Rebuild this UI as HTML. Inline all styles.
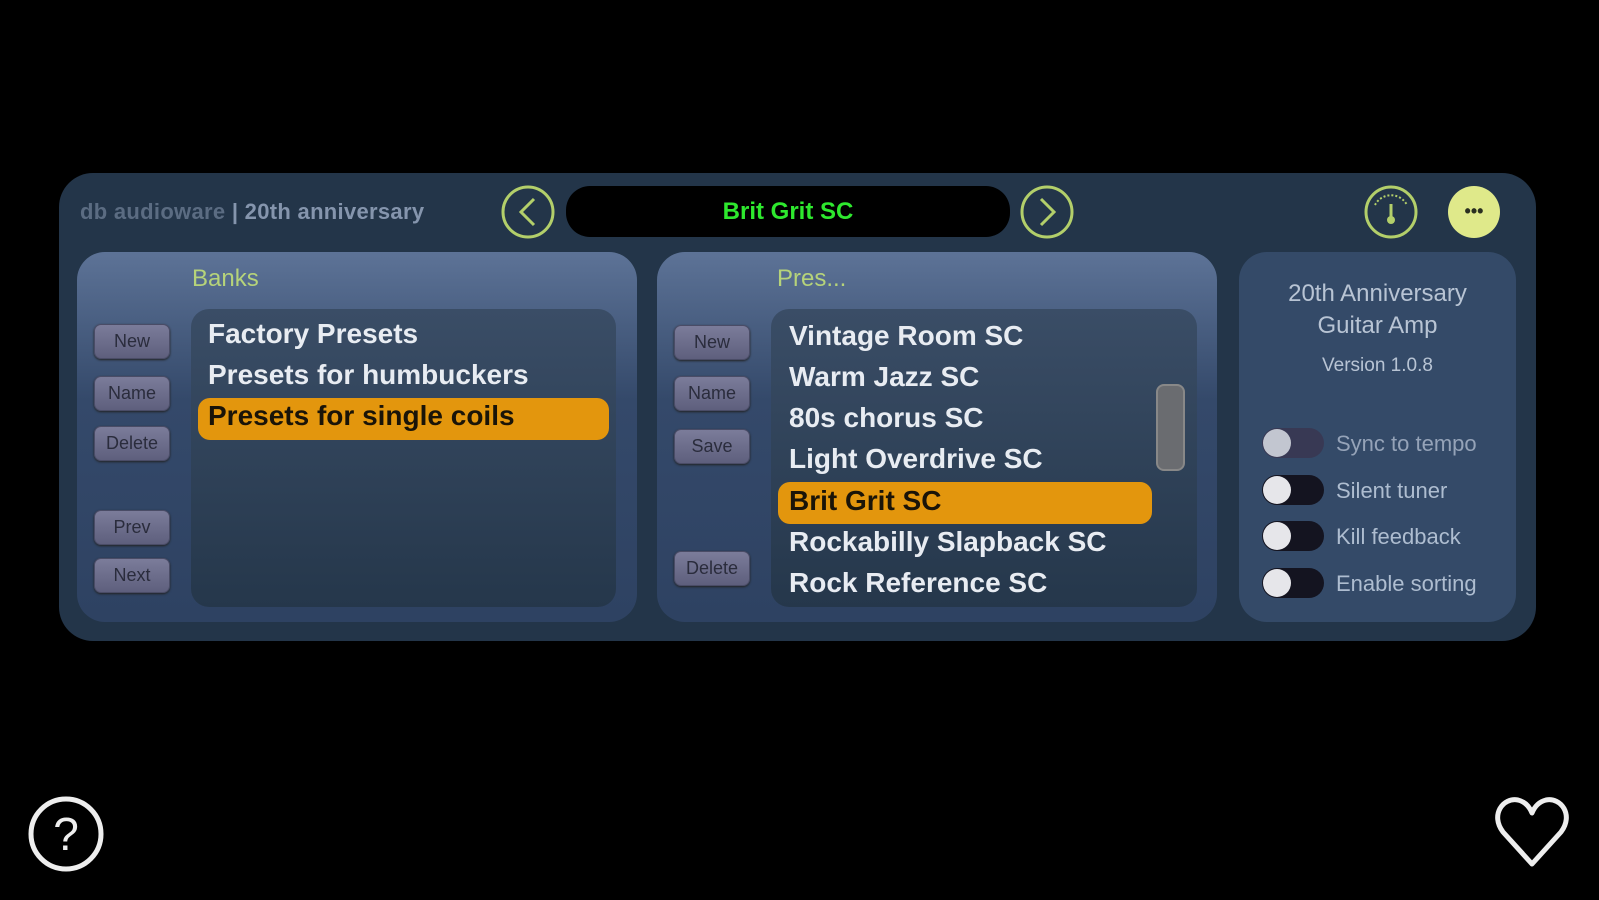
<!DOCTYPE html><html><head><style>
body{margin:0;width:1599px;height:900px;background:#000;position:relative;overflow:hidden;font-family:"Liberation Sans",sans-serif}
div{position:absolute;box-sizing:border-box}
.main{left:59px;top:173px;width:1477px;height:468px;background:#233549;border-radius:34px}
.pan{top:252px;height:370px;border-radius:28px;background:linear-gradient(#5d7397,#34496a 40%,#2e4262)}
.list{background:linear-gradient(#3a4d66,#25374b);border-radius:18px}
.btn{width:76px;height:35px;border-radius:7px;background:linear-gradient(#7b7c9a,#5e5f7d);border:1px solid #4a4c66;color:#2a2c3c;font-size:18px;text-align:center;line-height:33px;box-shadow:0 1px 2px #222}
.it{color:#e8ecf2;font-weight:bold;font-size:28px;white-space:nowrap}
.hl{background:#e3960d;border-radius:12px}
.lbl{color:#b6d37a;font-size:24px}
.tg{left:1262px;width:62px;height:30px;border-radius:15px;background:#141420}
.tg:after{content:"";position:absolute;left:1px;top:1px;width:28px;height:28px;border-radius:50%;background:#e6e6ea}
.tl{left:1336px;color:#aebdd0;font-size:22px}
</style></head><body>
<div class="main"></div>
<div style="left:80px;top:199px;font-size:22px;font-weight:bold;color:#5b6c82;letter-spacing:0.3px">db audioware <span style="color:#8595ad">| 20th anniversary</span></div>
<svg style="position:absolute;left:0;top:0" width="1599" height="900">
<circle cx="528" cy="212" r="25" fill="none" stroke="#b3cf6a" stroke-width="3"/>
<path d="M534 199 L521 212 L534 225" fill="none" stroke="#b3cf6a" stroke-width="3"/>
<circle cx="1047" cy="212" r="25" fill="none" stroke="#b3cf6a" stroke-width="3"/>
<path d="M1041 199 L1054 212 L1041 225" fill="none" stroke="#b3cf6a" stroke-width="3"/>
<circle cx="1391" cy="212" r="25" fill="none" stroke="#b3cf6a" stroke-width="3"/>
<path d="M1375 205 A18 18 0 0 1 1407 205" fill="none" stroke="#b3cf6a" stroke-width="2" stroke-dasharray="2 2"/>
<path d="M1391 204 L1391 218" stroke="#b3cf6a" stroke-width="3"/><circle cx="1391" cy="220" r="4" fill="#b3cf6a"/>
<circle cx="1474" cy="212" r="26" fill="#dfe98a"/>
<text x="1474" y="217" font-size="18" font-weight="bold" text-anchor="middle" fill="#2a2f20" font-family="Liberation Sans">•••</text>
<circle cx="66" cy="834" r="35" fill="none" stroke="#eee" stroke-width="5"/>
<text x="66" y="850" font-size="46" text-anchor="middle" fill="#eee" font-family="Liberation Sans">?</text>
<path d="M1532 864 L1503 832 C1490 815 1503 797 1518 800 C1526 802 1530 808 1532 813 C1534 808 1538 802 1546 800 C1561 797 1574 815 1561 832 Z" fill="none" stroke="#eee" stroke-width="5" stroke-linejoin="round"/>
</svg>
<div style="left:566px;top:186px;width:444px;height:51px;border-radius:24px;background:#000;color:#2ee82e;font-weight:bold;font-size:24px;text-align:center;line-height:51px">Brit Grit SC</div>

<div class="pan" style="left:77px;width:560px"></div>
<div class="lbl" style="left:192px;top:265px">Banks</div>
<div class="list" style="left:191px;top:309px;width:425px;height:298px"></div>
<div class="hl" style="left:198px;top:398px;width:411px;height:42px"></div>
<div class="it" style="left:208px;top:318px">Factory Presets</div>
<div class="it" style="left:208px;top:359px">Presets for humbuckers</div>
<div class="it" style="left:208px;top:400px;color:#1a1408">Presets for single coils</div>
<div class="btn" style="left:94px;top:324px">New</div>
<div class="btn" style="left:94px;top:376px">Name</div>
<div class="btn" style="left:94px;top:426px">Delete</div>
<div class="btn" style="left:94px;top:510px">Prev</div>
<div class="btn" style="left:94px;top:558px">Next</div>

<div class="pan" style="left:657px;width:560px"></div>
<div class="lbl" style="left:777px;top:265px">Pres...</div>
<div class="list" style="left:771px;top:309px;width:426px;height:298px"></div>
<div style="left:1156px;top:384px;width:29px;height:87px;border-radius:8px;background:#6a6c70;border:2px solid #888"></div>
<div class="hl" style="left:778px;top:482px;width:374px;height:42px"></div>
<div class="it" style="left:789px;top:320px">Vintage Room SC</div>
<div class="it" style="left:789px;top:361px">Warm Jazz SC</div>
<div class="it" style="left:789px;top:402px">80s chorus SC</div>
<div class="it" style="left:789px;top:443px">Light Overdrive SC</div>
<div class="it" style="left:789px;top:485px;color:#1a1408">Brit Grit SC</div>
<div class="it" style="left:789px;top:526px">Rockabilly Slapback SC</div>
<div class="it" style="left:789px;top:567px">Rock Reference SC</div>
<div class="btn" style="left:674px;top:325px">New</div>
<div class="btn" style="left:674px;top:376px">Name</div>
<div class="btn" style="left:674px;top:429px">Save</div>
<div class="btn" style="left:674px;top:551px">Delete</div>

<div class="pan" style="left:1239px;width:277px;background:#344a68"></div>
<div style="left:1239px;width:277px;top:278px;text-align:center;color:#b8c4d4;font-size:24px;line-height:32px">20th Anniversary<br>Guitar Amp</div>
<div style="left:1239px;width:277px;top:355px;text-align:center;color:#b8c4d4;font-size:19px">Version 1.0.8</div>
<div class="tg" style="top:428px;background:#3a3550;opacity:.8"></div>
<div class="tl" style="top:431px;color:#95a3b8">Sync to tempo</div>
<div class="tg" style="top:475px"></div><div class="tl" style="top:478px">Silent tuner</div>
<div class="tg" style="top:521px"></div><div class="tl" style="top:524px">Kill feedback</div>
<div class="tg" style="top:568px"></div><div class="tl" style="top:571px">Enable sorting</div>
</body></html>
